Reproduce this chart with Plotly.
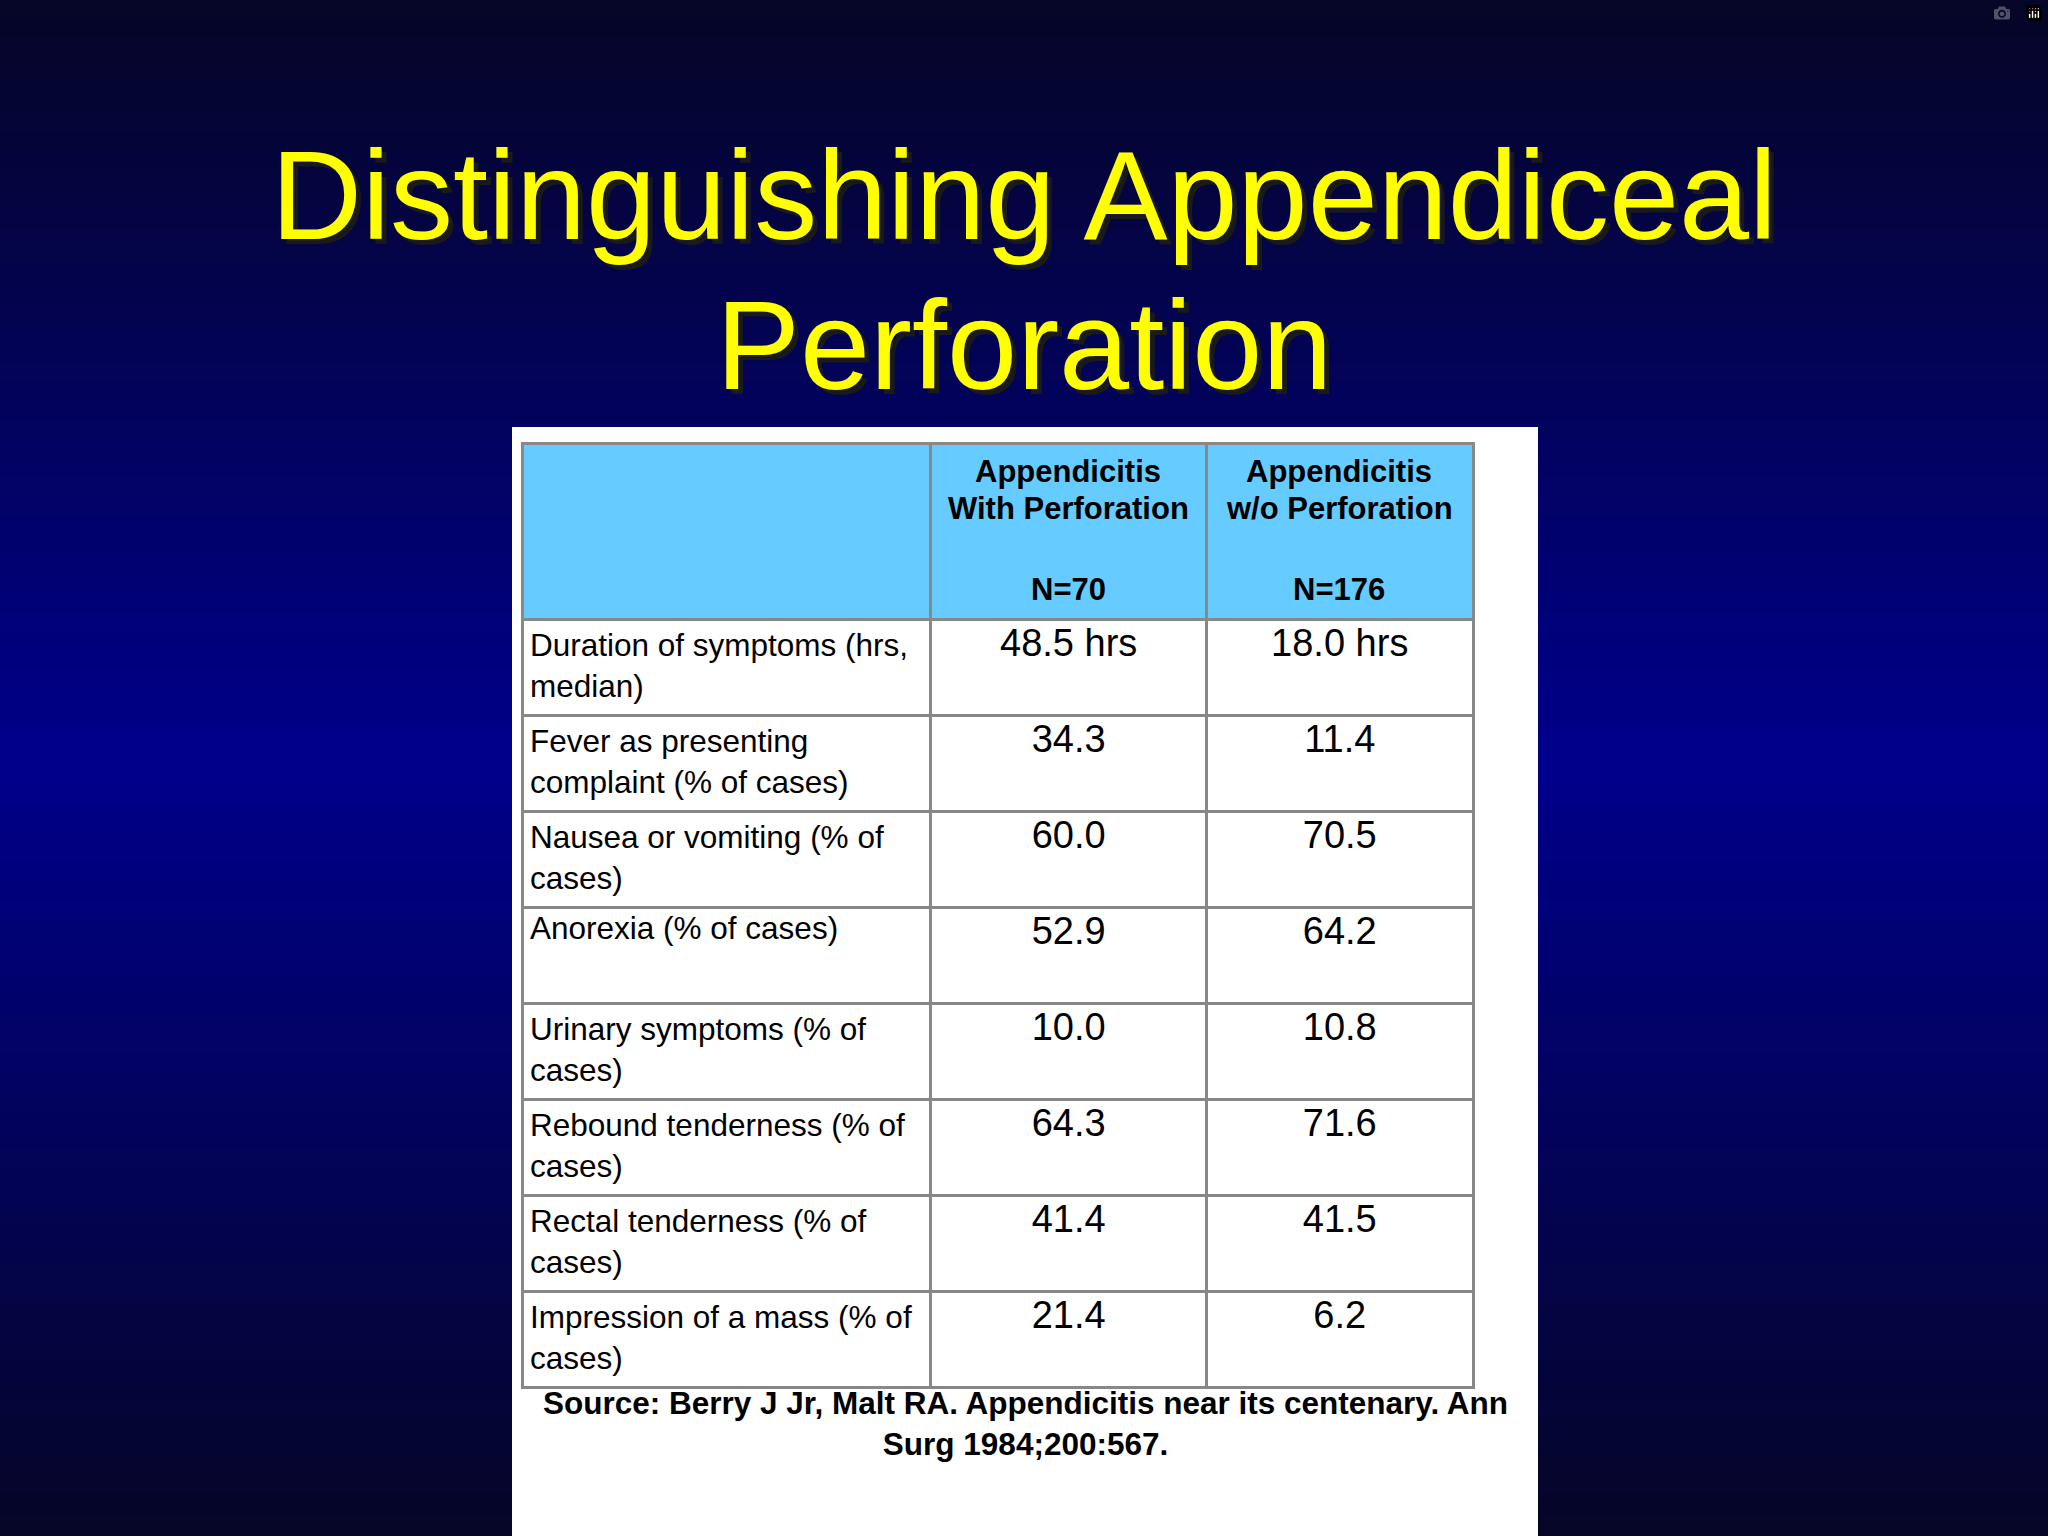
import numpy as np
import plotly.graph_objects as go

TITLE_LINES = ["Distinguishing Appendiceal", "Perforation"]
HEADER_COLS = [
    ["Appendicitis", "With Perforation", "N=70"],
    ["Appendicitis", "w/o Perforation", "N=176"],
]
ROW_LABELS = [
    "Duration of symptoms (hrs,<br>median)",
    "Fever as presenting<br>complaint (% of cases)",
    "Nausea or vomiting (% of<br>cases)",
    "Anorexia (% of cases)",
    "Urinary symptoms (% of<br>cases)",
    "Rebound tenderness (% of<br>cases)",
    "Rectal tenderness (% of<br>cases)",
    "Impression of a mass (% of<br>cases)",
]
WITH_PERF = ["48.5 hrs", "34.3", "60.0", "52.9", "10.0", "64.3", "41.4", "21.4"]
WITHOUT_PERF = ["18.0 hrs", "11.4", "70.5", "64.2", "10.8", "71.6", "41.5", "6.2"]
SOURCE = "<b>Source: Berry J Jr, Malt RA. Appendicitis near its centenary. Ann<br>Surg 1984;200:567.</b>"

W, H = 2048, 1536
FONT = "Liberation Sans, Arial, sans-serif"

fig = go.Figure()

# vertical background gradient: dark navy at top/bottom, brighter blue around the middle
shapes = []
n_bands = 80
for i in range(n_bands):
    t = i / (n_bands - 1)
    k = max(0.0, 1 - abs(t - 0.5) / 0.5)
    r = int(6 - 6 * k)
    g = int(6 - 6 * k)
    b = int(40 + 100 * k)
    shapes.append(dict(type="rect", xref="paper", yref="paper",
                       x0=0, x1=1, y0=1 - (i + 1) / n_bands, y1=1 - i / n_bands + 0.002,
                       fillcolor=f"rgb({r},{g},{b})", line=dict(width=0), layer="below"))
# white panel behind the table
shapes.append(dict(type="rect", xref="paper", yref="paper",
                   x0=512 / W, x1=1538 / W, y0=0, y1=1 - 427 / H,
                   fillcolor="white", line=dict(width=0), layer="below"))

fig.add_trace(go.Table(
    domain=dict(x=[522 / W, 1473 / W], y=[1 - 1390 / H, 1 - 443 / H]),
    columnwidth=[313, 211, 204],
    header=dict(values=["", "", ""], fill_color="#66ccff",
                line=dict(color="#888888", width=3), height=176),
    cells=dict(values=[ROW_LABELS, WITH_PERF, WITHOUT_PERF],
               fill_color="white", align=["left", "center", "center"],
               line=dict(color="#888888", width=3), height=96,
               font=dict(family=FONT, size=[31.5, 38, 38], color="black")),
))

annotations = []
for y, line in zip([196, 346], TITLE_LINES):
    for dx, dy, col in [(5, -5, "#1a1a1a"), (0, 0, "#ffff00")]:
        annotations.append(dict(text=line, xref="paper", yref="paper",
                                x=1024 / W, y=1 - y / H, xshift=dx, yshift=dy,
                                showarrow=False, xanchor="center", yanchor="middle",
                                font=dict(family=FONT, size=126, color=col)))
# header labels, each line centred in its column
for xc, lines in zip([1068, 1339], HEADER_COLS):
    for y, line in zip([471, 508, 589], lines):
        annotations.append(dict(text=f"<b>{line}</b>", xref="paper", yref="paper",
                                x=xc / W, y=1 - y / H, showarrow=False,
                                xanchor="center", yanchor="middle",
                                font=dict(family=FONT, size=31, color="black")))
annotations.append(dict(text=SOURCE, xref="paper", yref="paper",
                        x=1025 / W, y=1 - 1423 / H, showarrow=False,
                        xanchor="center", yanchor="middle", align="center",
                        font=dict(family=FONT, size=31.5, color="black")))

fig.update_layout(width=W, height=H, margin=dict(l=0, r=0, t=0, b=0),
                  paper_bgcolor="rgb(6,6,40)", plot_bgcolor="rgb(6,6,40)",
                  shapes=shapes, annotations=annotations)
fig.write_html("out.html",
               post_script="document.body.style.margin='0';"
                           "document.body.style.background='rgb(6,6,40)';")
